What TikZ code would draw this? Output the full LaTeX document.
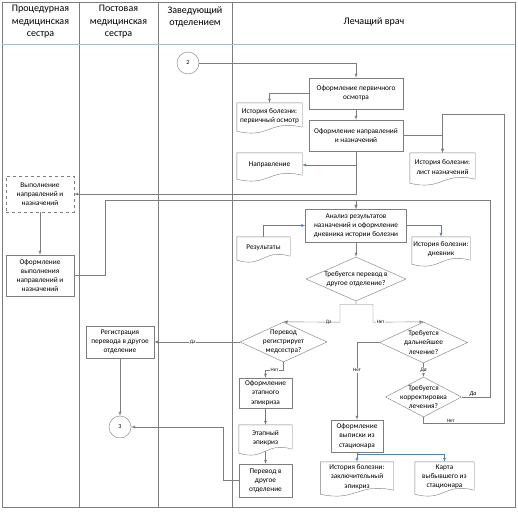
\documentclass[tikz,border=0pt]{standalone}
\usepackage{fontspec}
\setmainfont{Carlito}
\usepackage{xcolor}
\usepackage{tikz}
\usetikzlibrary{shapes.geometric, arrows, positioning, calc}

\definecolor{linegray}{RGB}{125,125,125}
\definecolor{docblue}{RGB}{79,129,189}
\definecolor{headblue}{RGB}{165,190,215}

% outline of a document shape round a node
\newcommand{\docshape}[1]{%
  \draw[draw=linegray]
    ($(#1.south east)+(0,-2)$) -- (#1.north east) -- (#1.north west) -- ($(#1.south west)+(0,2)$)
    .. controls ($(#1.south)+(0,10)$) and ($(#1.south)+(0,-10)$) .. ($(#1.south east)+(0,-2)$);}

\begin{document}
\begin{tikzpicture}[
  x=1pt, y=-1pt,
  lane/.style={draw=linegray, line width=0.5pt},
  header/.style={align=center, font=\fontsize{10}{12.5}\selectfont},
  process/.style={rectangle, draw=linegray, fill=white, align=center,
                  font=\fontsize{7.3}{9.2}\selectfont, inner sep=1pt},
  dashbox/.style={process, dashed},
  document/.style={rectangle, draw=none, align=center,
                   font=\fontsize{7.3}{9.2}\selectfont, inner sep=1pt},
  decision/.style={diamond, draw=linegray, fill=white, inner sep=0pt},
  qtext/.style={align=center, font=\fontsize{7.3}{9.2}\selectfont},
  connector/.style={circle, draw=linegray, fill=white, minimum size=22pt,
                    inner sep=0pt, font=\fontsize{6}{7}\selectfont},
  tag/.style={font=\fontsize{5}{6}\selectfont, fill=white, inner sep=0.6pt},
  arrow/.style={->, >=latex, draw=linegray},
  bluearrow/.style={->, >=latex, draw=docblue}
]

\fill[white] (0,0) rectangle (518,511);

% lanes
\draw[lane] (2,2) rectangle (515,507);
\foreach \x in {79,158,232}
  \draw[lane] (\x,2) -- (\x,507);
\draw[lane, draw=headblue] (2,44) -- (515,44);

\node[header] (hproc) at (40.5,22) {Процедурная\\медицинская\\сестра};
\node[header] (hpost) at (118.5,22) {Постовая\\медицинская\\сестра};
\node[header] (hhead) at (195,17) {Заведующий\\отделением};
\node[header] (hdoc) at (374,22) {Лечащий врач};

% connectors
\node[connector] (circ2) at (188,63) {2};
\node[connector] (circ3) at (120,427) {3};

% processes
\node[process, minimum width=94pt, minimum height=31pt] (exam) at (356,93.5) {Оформление первичного\\осмотра};
\node[process, minimum width=94pt, minimum height=31pt] (presc) at (356,135.5) {Оформление направлений\\и назначений};
\node[process, minimum width=101pt, minimum height=33pt] (anal) at (356,225.5) {Анализ результатов\\назначений и оформление\\дневника истории болезни};
\node[dashbox, minimum width=68pt, minimum height=36pt] (exec) at (40,194) {Выполнение\\направлений и\\назначений};
\node[process, minimum width=68pt, minimum height=41pt] (done) at (40,275.5) {Оформление\\выполнения\\направлений и\\назначений};
\node[process, minimum width=68pt, minimum height=32pt] (reg) at (120,342) {Регистрация\\перевода в другое\\отделение};
\node[process, minimum width=53pt, minimum height=30pt] (epic) at (265.5,393) {Оформление\\этапного\\эпикриза};
\node[process, minimum width=53pt, minimum height=33pt] (move) at (265.5,480.5) {Перевод в\\другое\\отделение};
\node[process, minimum width=52pt, minimum height=32pt] (disch) at (357,436) {Оформление\\выписки из\\стационара};

% documents
\node[document, minimum width=65pt, minimum height=26pt] (primdoc) at (269.5,116) {История болезни:\\первичный осмотр};
\node[document, minimum width=65pt, minimum height=24pt] (refdoc) at (269.5,165) {Направление};
\node[document, minimum width=65pt, minimum height=28pt] (listdoc) at (442.5,167) {История болезни:\\лист назначений};
\node[document, minimum width=53pt, minimum height=21pt] (resdoc) at (263.5,247.5) {Результаты};
\node[document, minimum width=58pt, minimum height=25pt] (diarydoc) at (441,249.5) {История болезни:\\дневник};
\node[document, minimum width=53pt, minimum height=26pt] (epicdoc) at (265.5,438) {Этапный\\эпикриз};
\node[document, minimum width=73pt, minimum height=30pt] (finaldoc) at (357,477) {История болезни:\\заключительный\\эпикриз};
\node[document, minimum width=59pt, minimum height=30pt] (carddoc) at (444.5,477) {Карта\\выбывшего из\\стационара};
\foreach \d in {primdoc,refdoc,listdoc,resdoc,diarydoc,epicdoc,finaldoc,carddoc}
  \docshape{\d};

% decisions
\node[decision, minimum width=100pt, minimum height=44pt,
      label={[qtext]center:Требуется перевод в\\другое отделение?}] (trans) at (356,279) {};
\node[decision, minimum width=87pt, minimum height=40pt,
      label={[qtext]center:Перевод\\регистрирует\\медсестра?}] (nurse) at (283.5,342) {};
\node[decision, minimum width=88pt, minimum height=41pt,
      label={[qtext]center:Требуется\\дальнейшее\\лечение?}] (more) at (423.5,342.5) {};
\node[decision, minimum width=76pt, minimum height=40pt,
      label={[qtext]center:Требуется\\корректировка\\лечения?}] (corr) at (423.5,397) {};

\coordinate (loopno) at (504,114);
\coordinate (loopyes) at (490,200);
\coordinate (loopexec) at (105,200);

% first examination
\draw[arrow] (circ2) -| (exam);
\draw[arrow] (exam.west) -| (primdoc.north);
\draw[arrow] (exam) -- (presc);
\draw[bluearrow] (presc.south) |- (refdoc.east);
\draw[arrow] (presc.south) |- (exec.east);
\draw[arrow] (presc.east) -| (listdoc.north);
\draw[arrow] (exec) -- (done);
\draw[arrow] (done.east) -| (loopexec) -| (anal.north);

% analysis
\draw[bluearrow] (resdoc.north) |- (anal.west);
\draw[bluearrow] (anal.east) -| (diarydoc.north);
\draw[arrow] (anal) -- (trans);

% transfer branch
\draw[arrow] (trans.south) -- ++(0,3) -| ++(-16,18) -- node[tag, pos=0.2]{Да} (nurse.north);
\draw[arrow] (trans.south) -- ++(0,3) -| ++(17,18) -- node[tag, pos=0.15]{Нет} (more.north);
\draw[arrow] (nurse.west) -- node[tag, pos=0.55]{Да} (reg.east);
\draw[arrow] (reg) -- (circ3);
\draw[arrow] (nurse.south) -- ++(0,8) -| node[tag, pos=0.25]{Нет} (epic.north);
\draw[bluearrow] (epic) -- (epicdoc);
\draw[arrow] (epicdoc.south) -- (move.north);
\draw[arrow] (move.west) -- ++(-16,0) |- (circ3.east);

% treatment branch
\draw[arrow] (more.west) -| node[tag, pos=0.68]{Нет} (disch.north);
\draw[arrow] (more) -- node[tag, font=\fontsize{5.5}{6}\itshape]{Да} (corr);
\draw[bluearrow] (disch) -- (finaldoc);
\draw[bluearrow] (disch.south) -- ++(0,2) -| (carddoc.north);

% loop back
\draw[arrow] (corr.east) -| node[tag, pos=0.2, above, fill=none, font=\fontsize{6}{7}\itshape]{Да} (loopyes) -| (anal.north);
\draw[arrow] (corr.south) -- ++(0,6) -| node[tag, pos=0.17, above, fill=none]{Нет} (loopno) -| (listdoc.north);
\end{tikzpicture}
\end{document}
